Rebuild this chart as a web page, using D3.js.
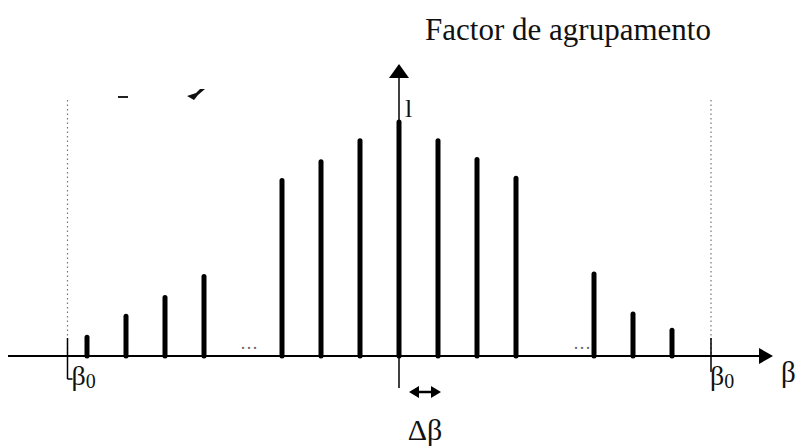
<!DOCTYPE html>
<html><head><meta charset="utf-8">
<script src="https://cdn.jsdelivr.net/npm/d3@7"></script>
<style>body{margin:0;background:#fff}svg{display:block}</style>
</head><body>
<script>
// Data: position index (in units of Δβ from centre) and array factor magnitude
const positions = [-8,-7,-6,-5,-3,-2,-1,0,1,2,3,5,6,7];
const values    = [0.08,0.17,0.25,0.34,0.75,0.83,0.92,1.0,0.92,0.84,0.76,0.35,0.18,0.11];
const boundaries = [-8.5, 8];          // ±β0 limits (dotted)
const ellipsisPos = [-4, 4];
const title = "Factor de agrupamento";
const yTickLabel = "l";

const W = 800, H = 448;
const svg = d3.select("body").append("svg").attr("width", W).attr("height", H);

const x = d3.scaleLinear().domain([0, 1]).range([399, 438]); // 1 unit = Δβ
const y = d3.scaleLinear().domain([0, 1]).range([356, 122]);
const serif = "'Liberation Serif','DejaVu Serif',serif";

// dotted boundary lines
svg.selectAll("line.bnd").data(boundaries).join("line")
  .attr("x1", d => x(d)).attr("x2", d => x(d))
  .attr("y1", 100).attr("y2", y(0))
  .attr("stroke", "#777").attr("stroke-width", 1.2).attr("stroke-dasharray", "1.5,3");

// horizontal axis
svg.append("line").attr("x1", 8).attr("x2", 762).attr("y1", y(0)).attr("y2", y(0))
  .attr("stroke", "#000").attr("stroke-width", 2);
svg.append("path").attr("d", `M759,${y(0)-8} L773,${y(0)} L759,${y(0)+8} Z`).attr("fill", "#000");

// vertical axis
svg.append("line").attr("x1", x(0)).attr("x2", x(0)).attr("y1", 76).attr("y2", 388)
  .attr("stroke", "#000").attr("stroke-width", 1.5);
svg.append("path").attr("d", `M${x(0)-10},78 L${x(0)},64 L${x(0)+10},78 Z`).attr("fill", "#000");

// boundary ticks below axis
svg.selectAll("line.btick").data(boundaries).join("line")
  .attr("x1", d => x(d)).attr("x2", d => x(d))
  .attr("y1", y(0) - 18).attr("y2", d => d < 0 ? 379 : 372)
  .attr("stroke", "#000").attr("stroke-width", 1.5);
svg.append("line").attr("x1", x(boundaries[0])).attr("x2", x(boundaries[0]) + 5)
  .attr("y1", 379).attr("y2", 379).attr("stroke", "#000").attr("stroke-width", 1.5);

// bars
svg.selectAll("line.bar").data(positions).join("line")
  .attr("x1", d => x(d)).attr("x2", d => x(d))
  .attr("y1", y(0)).attr("y2", (d, i) => y(values[i]))
  .attr("stroke", "#000").attr("stroke-width", 5).attr("stroke-linecap", "round");

// ellipses
svg.selectAll("text.ell").data(ellipsisPos).join("text")
  .attr("x", d => x(d) + (d > 0 ? 27 : 6)).attr("y", 354)
  .attr("text-anchor", "middle").attr("font-family", serif).attr("font-size", 18)
  .attr("fill", "#666").text("···");

// labels
svg.append("text").attr("x", 568).attr("y", 40).attr("text-anchor", "middle")
  .attr("font-family", serif).attr("font-size", 31).attr("fill", "#111").text(title);
svg.append("text").attr("x", 405).attr("y", 117)
  .attr("font-family", serif).attr("font-size", 26).attr("fill", "#111").text(yTickLabel);

function beta0(xp) {
  const t = svg.append("text").attr("x", xp).attr("y", 385)
    .attr("font-family", serif).attr("font-size", 28).attr("fill", "#111");
  t.append("tspan").text("β");
  t.append("tspan").attr("font-size", 20).attr("dy", 3).text("0");
}
beta0(x(boundaries[0]) + 4);
beta0(x(boundaries[1]) - 1);
svg.append("text").attr("x", 781).attr("y", 382)
  .attr("font-family", serif).attr("font-size", 29).attr("fill", "#111").text("β");

// Δβ indicator
svg.append("line").attr("x1", 414).attr("x2", 436).attr("y1", 392).attr("y2", 392)
  .attr("stroke", "#000").attr("stroke-width", 2.5);
svg.append("path").attr("d", "M409,392 L419,386 L419,398 Z M441,392 L431,386 L431,398 Z").attr("fill", "#000");
svg.append("text").attr("x", 425).attr("y", 440).attr("text-anchor", "middle")
  .attr("font-family", serif).attr("font-size", 30).attr("fill", "#111").text("Δβ");

// stray scan marks
svg.append("path").attr("d", "M118,97 L128,97").attr("stroke", "#222").attr("stroke-width", 2);
svg.append("path").attr("d", "M187,96 L196,93 L200,89 L205,89 L198,95 L194,100 Z").attr("fill", "#111");
</script>
</body></html>
